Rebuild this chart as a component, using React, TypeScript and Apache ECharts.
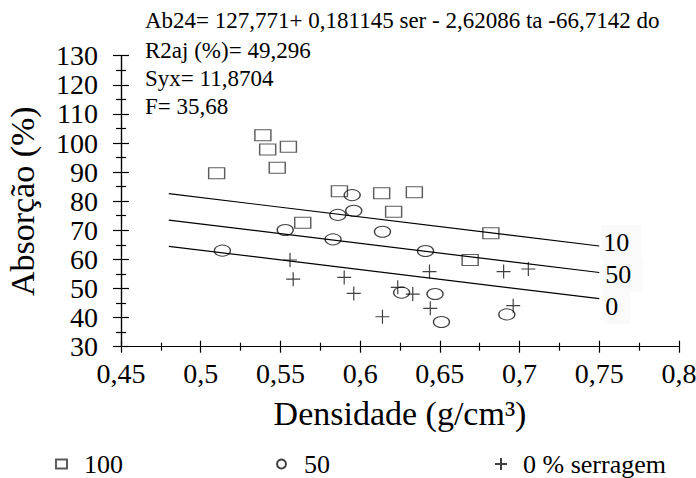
import React, { useEffect, useRef } from "react";
import * as echarts from "echarts";

// Scatter data: densidade (g/cm³) vs absorção (%)
const sq100X = [0.539, 0.542, 0.555, 0.548, 0.510, 0.587, 0.6135, 0.634, 0.621, 0.564, 0.682, 0.669];
const sq100Y = [102.7, 97.8, 98.7, 91.5, 89.6, 83.4, 82.7, 83.1, 76.4, 72.6, 69.0, 59.8];

const c50X = [0.595, 0.596, 0.586, 0.553, 0.614, 0.583, 0.5136, 0.626, 0.641, 0.647, 0.651, 0.692];
const c50Y = [82.1, 76.7, 75.3, 70.1, 69.5, 66.9, 63.0, 48.6, 62.9, 48.1, 38.5, 41.1];

const p0X = [0.556, 0.558, 0.590, 0.596, 0.614, 0.6236, 0.6435, 0.633, 0.644, 0.690, 0.7055, 0.696];
const p0Y = [59.8, 53.2, 53.8, 48.3, 40.3, 50.4, 55.8, 48.1, 43.2, 55.8, 56.7, 44.1];

// Regression lines (endpoints)
const lineX = [0.48, 0.75];
const line100Y = [82.6, 64.6];
const line50Y = [73.5, 55.5];
const line0Y = [64.5, 46.5];
const lineLabels = ["10", "50", "0"];

const seriesNames = ["100", "50", "0 % serragem"];
const statsText = [
  "Ab24= 127,771+ 0,181145 ser - 2,62086 ta -66,7142 do",
  "R2aj (%)= 49,296",
  "Syx= 11,8704",
  "F= 35,68",
];

const FONT = "Liberation Serif";
const plusPath = "path://M5,0L5,10M0,5L10,5";

const zip = (xs: number[], ys: number[]) => xs.map((x, i) => [x, ys[i]]);
const fmtX = (v: number) => String(+v.toFixed(3)).replace(".", ",");

export default function App() {
  const ref = useRef<HTMLDivElement>(null);
  useEffect(() => {
    if (!ref.current) return;
    const chart = echarts.init(ref.current, null, { renderer: "svg" });
    const axisLine = { lineStyle: { color: "#000", width: 1.2 } };
    const xBase = {
      type: "value",
      min: 0.45,
      max: 0.8,
      interval: 0.05,
      splitLine: { show: false },
      axisLine,
    };
    const yBase = {
      type: "value",
      min: 30,
      max: 130,
      interval: 10,
      splitLine: { show: false },
      axisLine,
    };
    const lineSeries = (name: string, ys: number[], label: string, off: number[]) => ({
      type: "line",
      name,
      data: zip(lineX, ys),
      showSymbol: false,
      symbol: "none",
      lineStyle: { color: "#000", width: 1.2 },
      silent: true,
      endLabel: {
        show: true,
        formatter: label,
        fontFamily: FONT,
        fontSize: 26,
        color: "#000",
        offset: off,
        distance: 2,
        backgroundColor: "#fafafa",
        padding: [4, 12, 4, 2],
      },
    });
    const legendText = { fontFamily: FONT, fontSize: 26, lineHeight: 26, color: "#000" };
    const legendBase = { top: 451, padding: 0, itemWidth: 11, itemHeight: 9 };
    chart.setOption({
      animation: false,
      backgroundColor: "#fff",
      textStyle: { fontFamily: FONT, color: "#000" },
      grid: { left: 121, right: 17, top: 55.7, bottom: 131.3, containLabel: false, outerBoundsMode: "none" },
      xAxis: [
        {
          ...xBase,
          name: "Densidade (g/cm³)",
          nameLocation: "middle",
          nameGap: 50,
          nameTextStyle: { fontFamily: FONT, fontSize: 34, color: "#000" },
          axisTick: { show: true, length: 6, lineStyle: { color: "#000", width: 1.2 } },
          minorTick: { show: true, splitNumber: 2, length: 4, lineStyle: { color: "#000", width: 1.2 } },
          axisLabel: { fontFamily: FONT, fontSize: 28, color: "#000", margin: 13, formatter: fmtX },
        },
        {
          ...xBase,
          position: "bottom",
          axisTick: { show: true, inside: true, length: 6, lineStyle: { color: "#000", width: 1.2 } },
          minorTick: { show: true, splitNumber: 2, length: 4, lineStyle: { color: "#000", width: 1.2 } },
          axisLabel: { show: false },
        },
      ],
      yAxis: [
        {
          ...yBase,
          name: "Absorção (%)",
          nameLocation: "middle",
          nameGap: 82,
          nameTextStyle: { fontFamily: FONT, fontSize: 34, color: "#000" },
          axisTick: { show: true, length: 8, lineStyle: { color: "#000", width: 1.2 } },
          minorTick: { show: true, splitNumber: 2, length: 5, lineStyle: { color: "#000", width: 1.2 } },
          axisLabel: { fontFamily: FONT, fontSize: 28, color: "#000", margin: 23 },
        },
        {
          ...yBase,
          position: "left",
          axisTick: { show: true, inside: true, length: 8, lineStyle: { color: "#000", width: 1.2 } },
          minorTick: { show: true, splitNumber: 2, length: 5, lineStyle: { color: "#000", width: 1.2 } },
          axisLabel: { show: false },
        },
      ],
      legend: [
        {
          ...legendBase,
          data: [seriesNames[0]],
          left: 55,
          icon: "rect",
          textStyle: { ...legendText, padding: [0, 0, 0, 12] },
        },
        {
          ...legendBase,
          data: [seriesNames[1]],
          left: 276,
          icon: "circle",
          textStyle: { ...legendText, padding: [0, 0, 0, 12] },
        },
        {
          ...legendBase,
          data: [seriesNames[2]],
          left: 494,
          icon: plusPath,
          itemWidth: 12,
          itemHeight: 12,
          textStyle: { ...legendText, padding: [0, 0, 0, 11] },
        },
      ],
      graphic: statsText.map((t, i) => ({
        type: "text",
        left: 145,
        top: [9, 39, 67, 95][i],
        style: { text: t, fontFamily: FONT, fontSize: 23, fill: "#000" },
      })),
      series: [
        {
          type: "scatter",
          name: seriesNames[0],
          data: zip(sq100X, sq100Y),
          symbol: "rect",
          symbolSize: [16, 11],
          itemStyle: { color: "rgba(255,255,255,0)", borderColor: "#333", borderWidth: 1.2 },
        },
        {
          type: "scatter",
          name: seriesNames[1],
          data: zip(c50X, c50Y),
          symbol: "circle",
          symbolSize: [16, 11],
          itemStyle: { color: "rgba(255,255,255,0)", borderColor: "#111", borderWidth: 1.2 },
        },
        {
          type: "scatter",
          name: seriesNames[2],
          data: zip(p0X, p0Y),
          symbol: plusPath,
          symbolSize: [14, 14],
          itemStyle: { color: "rgba(255,255,255,0)", borderColor: "#111", borderWidth: 1.2 },
        },
        lineSeries("l100", line100Y, lineLabels[0], [0, -4]),
        lineSeries("l50", line50Y, lineLabels[1], [2, 2]),
        lineSeries("l0", line0Y, lineLabels[2], [2, 8]),
      ],
    });
    return () => chart.dispose();
  }, []);
  return <div ref={ref} style={{ width: 696, height: 478, position: "absolute", left: 0, top: 0 }} />;
}
